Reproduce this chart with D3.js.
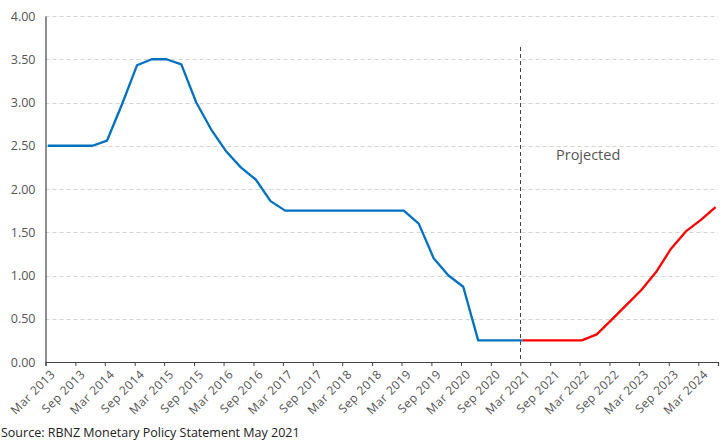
<!DOCTYPE html>
<html><head><meta charset="utf-8">
<script src="https://cdn.jsdelivr.net/npm/d3@7"></script>
<style>body{margin:0;background:#fff}svg{display:block}text{font-family:"Open Sans",sans-serif}</style>
</head><body><svg id="c" width="721" height="445"></svg>
<script>
// Quarterly OCR (quarter average) — actual and projected
const quarters = ["Mar 2013","Jun 2013","Sep 2013","Dec 2013","Mar 2014","Jun 2014","Sep 2014","Dec 2014","Mar 2015","Jun 2015","Sep 2015","Dec 2015","Mar 2016","Jun 2016","Sep 2016","Dec 2016","Mar 2017","Jun 2017","Sep 2017","Dec 2017","Mar 2018","Jun 2018","Sep 2018","Dec 2018","Mar 2019","Jun 2019","Sep 2019","Dec 2019","Mar 2020","Jun 2020","Sep 2020","Dec 2020","Mar 2021","Jun 2021","Sep 2021","Dec 2021","Mar 2022","Jun 2022","Sep 2022","Dec 2022","Mar 2023","Jun 2023","Sep 2023","Dec 2023","Mar 2024","Jun 2024"];
const actual = [2.50,2.50,2.50,2.50,2.56,2.98,3.43,3.50,3.50,3.44,3.00,2.69,2.44,2.25,2.11,1.86,1.75,1.75,1.75,1.75,1.75,1.75,1.75,1.75,1.75,1.60,1.20,1.00,0.87,0.25,0.25,0.25,0.25];
const projected = [0.25,0.25,0.25,0.25,0.25,0.32,0.49,0.66,0.83,1.04,1.31,1.51,1.64,1.79]; // from Mar 2021
const yTicks = [0,0.5,1,1.5,2,2.5,3,3.5,4];
const xTickLabels = ["Mar 2013","Sep 2013","Mar 2014","Sep 2014","Mar 2015","Sep 2015","Mar 2016","Sep 2016","Mar 2017","Sep 2017","Mar 2018","Sep 2018","Mar 2019","Sep 2019","Mar 2020","Sep 2020","Mar 2021","Sep 2021","Mar 2022","Sep 2022","Mar 2023","Sep 2023","Mar 2024"];
const projectionStart = "Mar 2021";
const sourceText = "Source: RBNZ Monetary Policy Statement May 2021";

const parseLabel = d3.timeParse("%b %Y");
const midQ = s => { const d = parseLabel(s); return new Date(d.getFullYear(), d.getMonth(), 15); };

const svg = d3.select("#c");
const L = 45.5, R = 718, T = 16, B = 362;
const x = d3.scaleTime().domain([new Date(2013,2,1), new Date(2024,5,30)]).range([L, R]);
const y = d3.scaleLinear().domain([0,4]).range([B, T]);

// gridlines
svg.append("g").selectAll("line").data(yTicks.filter(v=>v>0)).join("line")
  .attr("x1", L).attr("x2", R).attr("y1", d=>Math.round(y(d))+0.5).attr("y2", d=>Math.round(y(d))+0.5)
  .attr("stroke", "#d4d4d4").attr("stroke-width", 1).attr("stroke-dasharray", "4,3");

// y axis
const ya = svg.append("g").attr("transform", `translate(${L},0)`)
  .call(d3.axisLeft(y).tickValues(yTicks).tickFormat(d3.format(".2f")).tickSize(0).tickPadding(10));
ya.select(".domain").attr("stroke", "#444").attr("stroke-width", 1.2);
ya.selectAll("text").attr("font-size", 12.5).attr("fill", "#555").attr("font-family", "Open Sans");

// x axis
const xa = svg.append("g").attr("transform", `translate(0,${B})`)
  .call(d3.axisBottom(x).tickValues(xTickLabels.map(parseLabel)).tickFormat(d3.timeFormat("%b %Y")).tickSizeOuter(0).tickSize(4));
xa.select(".domain").attr("stroke", "#444").attr("stroke-width", 1.2);
xa.selectAll(".tick line").attr("stroke", "#444");
xa.selectAll("text").attr("font-size", 12).attr("letter-spacing", 0.5).attr("fill", "#555").attr("font-family", "Open Sans")
  .attr("text-anchor", "end").attr("transform", "translate(7,10) rotate(-45)").attr("dy", "0.35em").attr("y", 0).attr("x", 0);

// projection divider
const xp = Math.round(x(parseLabel(projectionStart))) + 0.5;
svg.append("line").attr("x1", xp).attr("x2", xp).attr("y1", 47).attr("y2", B)
  .attr("stroke", "#444").attr("stroke-width", 1).attr("stroke-dasharray", "4,3");

const line = d3.line().x(d=>x(d.date)).y(d=>y(d.v));
const actualData = actual.map((v,i)=>({date: midQ(quarters[i]), v}));
const p0 = quarters.indexOf(projectionStart);
const projData = projected.map((v,i)=>({date: midQ(quarters[p0+i]), v}));
svg.append("path").datum(actualData).attr("d", line).attr("fill","none").attr("stroke","#0070c0").attr("stroke-width",2.3).attr("stroke-linejoin","round");
svg.append("path").datum(projData).attr("d", line).attr("fill","none").attr("stroke","#ff0000").attr("stroke-width",2.3).attr("stroke-linejoin","round");

svg.append("text").attr("x", 556).attr("y", 159.5).text("Projected").attr("font-size", 14.5).attr("fill", "#555");
svg.append("text").attr("x", 1).attr("y", 437).text(sourceText).attr("font-size", 12.5).attr("fill", "#222");
</script></body></html>
